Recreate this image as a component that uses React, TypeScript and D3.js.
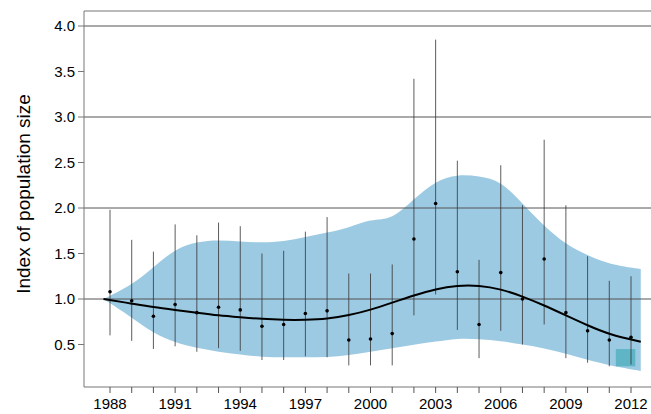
import React from "react";
import * as d3 from "d3";

const years = d3.range(1988, 2013);
const bandUpper = [1.0, 1.15, 1.35, 1.55, 1.63, 1.65, 1.63, 1.62, 1.63, 1.68, 1.73, 1.78, 1.88, 1.87, 2.1, 2.3, 2.37, 2.35, 2.3, 2.05, 1.8, 1.6, 1.48, 1.38, 1.33];
const bandLower = [1.0, 0.8, 0.62, 0.52, 0.46, 0.42, 0.39, 0.36, 0.36, 0.36, 0.36, 0.38, 0.42, 0.46, 0.5, 0.53, 0.57, 0.56, 0.54, 0.5, 0.46, 0.4, 0.33, 0.27, 0.21];
const trend = [1.0, 0.95, 0.91, 0.88, 0.85, 0.82, 0.8, 0.78, 0.77, 0.77, 0.78, 0.82, 0.88, 0.96, 1.04, 1.11, 1.15, 1.15, 1.11, 1.03, 0.93, 0.82, 0.71, 0.61, 0.53];
const index = [1.08, 0.98, 0.81, 0.94, 0.85, 0.91, 0.88, 0.7, 0.72, 0.84, 0.87, 0.55, 0.56, 0.62, 1.66, 2.05, 1.3, 0.72, 1.29, 1.0, 1.44, 0.85, 0.65, 0.55, 0.58];
const ciLow = [0.6, 0.54, 0.45, 0.48, 0.42, 0.46, 0.43, 0.33, 0.33, 0.37, 0.36, 0.27, 0.27, 0.27, 0.82, 1.05, 0.66, 0.35, 0.65, 0.5, 0.72, 0.35, 0.3, 0.26, 0.28];
const ciHigh = [1.98, 1.65, 1.52, 1.82, 1.7, 1.84, 1.8, 1.5, 1.53, 1.74, 1.9, 1.28, 1.28, 1.38, 3.42, 3.85, 2.52, 1.43, 2.47, 2.03, 2.75, 2.03, 1.47, 1.2, 1.25];
const yTicks = [0.5, 1.0, 1.5, 2.0, 2.5, 3.0, 3.5, 4.0];
const gridValues = [1, 2, 3, 4];
const xTicks = d3.range(1988, 2013, 3);

export default function App() {
  const x = d3.scaleLinear().domain([1988, 2012]).range([110, 631]);
  const y = d3.scaleLinear().domain([0.5, 4.0]).range([344.5, 26]);
  const left = 84, top = 11, bottom = 387, right = 651;

  // extend band and trend slightly past the first/last year
  const bx = [1987.7, ...years.slice(1, -1), 2012.45];
  const area = d3
    .area<number>()
    .x((_, i) => x(bx[i]))
    .y0((_, i) => y(bandLower[i]))
    .y1((_, i) => y(bandUpper[i]))
    .curve(d3.curveBasis);
  const line = d3
    .line<number>()
    .x((_, i) => x(bx[i]))
    .y((d) => y(d))
    .curve(d3.curveBasis);

  const font = "Liberation Sans, Arial, sans-serif";
  return (
    <svg width={651} height={414} style={{ position: "absolute", left: 0, top: 0 }}>
      <path d={area(bandUpper) ?? ""} fill="#9dcae3" />
      <rect x={x(2011.3)} y={y(0.45)} width={x(2012.2) - x(2011.3)} height={y(0.26) - y(0.45)} fill="#5fb5c6" />
      {gridValues.map((v) => (
        <line key={v} x1={left} x2={right} y1={y(v)} y2={y(v)} stroke="#555" strokeWidth={1} />
      ))}
      {years.map((yr, i) => (
        <g key={yr}>
          <line x1={x(yr)} x2={x(yr)} y1={y(ciLow[i])} y2={y(ciHigh[i])} stroke="#333" strokeWidth={0.8} />
          <circle cx={x(yr)} cy={y(index[i])} r={1.8} fill="#000" />
        </g>
      ))}
      <path d={line(trend) ?? ""} fill="none" stroke="#000" strokeWidth={2} />
      <line x1={left} x2={right} y1={top} y2={top} stroke="#777" />
      <line x1={left} x2={left} y1={top} y2={bottom} stroke="#777" />
      <line x1={left} x2={right} y1={bottom} y2={bottom} stroke="#777" />
      {yTicks.map((t) => (
        <g key={t}>
          <line x1={left - 6} x2={left} y1={y(t)} y2={y(t)} stroke="#777" />
          <text x={left - 9} y={y(t)} dy="0.35em" textAnchor="end" fontFamily={font} fontSize={15}>
            {t.toFixed(1)}
          </text>
        </g>
      ))}
      {years.map((yr) => (
        <line key={yr} x1={x(yr)} x2={x(yr)} y1={bottom} y2={bottom + 6} stroke="#555" />
      ))}
      {xTicks.map((yr) => (
        <text key={yr} x={x(yr)} y={bottom + 22} textAnchor="middle" fontFamily={font} fontSize={15}>
          {yr}
        </text>
      ))}
      <text transform={`translate(30,${(top + bottom) / 2 - 5}) rotate(-90)`} textAnchor="middle" fontFamily={font} fontSize={19}>
        Index of population size
      </text>
    </svg>
  );
}
